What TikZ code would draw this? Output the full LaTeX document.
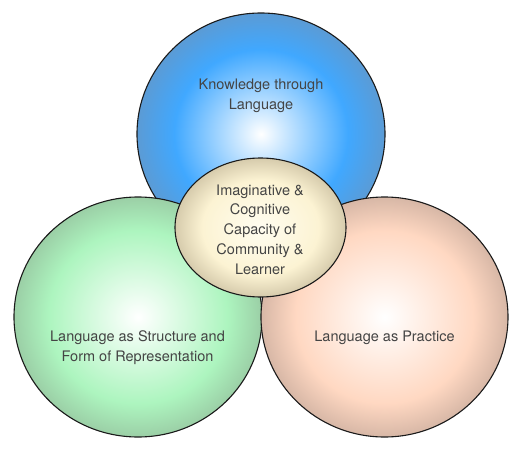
\documentclass[tikz,border=0pt]{standalone}
\usepackage{fontspec}
\setmainfont{TeX Gyre Heros}
\usetikzlibrary{shapes.geometric}
\definecolor{outline}{HTML}{1A1A1A}
\definecolor{textgray}{HTML}{444444}
\definecolor{blueMid}{HTML}{40A8FF}
\definecolor{blueEdge}{HTML}{5B9BD5}
\definecolor{greenMid}{HTML}{ADF5BF}
\definecolor{greenEdge}{HTML}{9BCFA6}
\definecolor{pinkMid}{HTML}{FFD8C2}
\definecolor{pinkEdge}{HTML}{D7B7A6}
\definecolor{creamIn}{HTML}{FFFDF0}
\definecolor{creamMid}{HTML}{FCF3D3}
\definecolor{creamEdge}{HTML}{D6CBAC}
\pgfdeclareradialshading{blueshade}{\pgfpoint{0bp}{0bp}}{color(0bp)=(white); color(17.5bp)=(blueMid); color(25bp)=(blueEdge); color(50bp)=(blueEdge)}
\pgfdeclareradialshading{greenshade}{\pgfpoint{0bp}{0bp}}{color(0bp)=(white); color(18bp)=(greenMid); color(25bp)=(greenEdge); color(50bp)=(greenEdge)}
\pgfdeclareradialshading{pinkshade}{\pgfpoint{0bp}{0bp}}{color(0bp)=(white); color(18bp)=(pinkMid); color(25bp)=(pinkEdge); color(50bp)=(pinkEdge)}
\pgfdeclareradialshading{creamshade}{\pgfpoint{0bp}{0bp}}{color(0bp)=(creamIn); color(17bp)=(creamMid); color(25bp)=(creamEdge); color(50bp)=(creamEdge)}
\begin{document}
\begin{tikzpicture}[x=1pt,y=-1pt,
  bubble/.style={ellipse, draw=outline, line width=1.1pt, inner sep=0pt, outer sep=0pt},
  lbl/.style={text=textgray, font=\fontsize{14.5}{19.8}\selectfont, align=center, inner sep=0pt}]
\useasboundingbox[fill=white] (0,0) rectangle (523,453);
\node[bubble, shading=blueshade, minimum width=248pt, minimum height=242pt] (know) at (261,134) {};
\node[bubble, shading=greenshade, minimum width=248pt, minimum height=240pt] (struct) at (138,317) {};
\node[bubble, shading=pinkshade, minimum width=247pt, minimum height=240pt] (prac) at (384.5,317) {};
\node[bubble, shading=creamshade, minimum width=171pt, minimum height=139pt] (core) at (260.5,227.5) {};
\node[lbl] (knowtxt) at (261,96) {Knowledge through\\Language};
\node[lbl] (structtxt) at (137.5,348) {Language as Structure and\\Form of Representation};
\node[lbl] (practxt) at (384.5,338) {Language as Practice};
\node[lbl] (coretxt) at (260,229.5) {Imaginative \&\\Cognitive\\Capacity of\\Community \&\\Learner};
\end{tikzpicture}
\end{document}
